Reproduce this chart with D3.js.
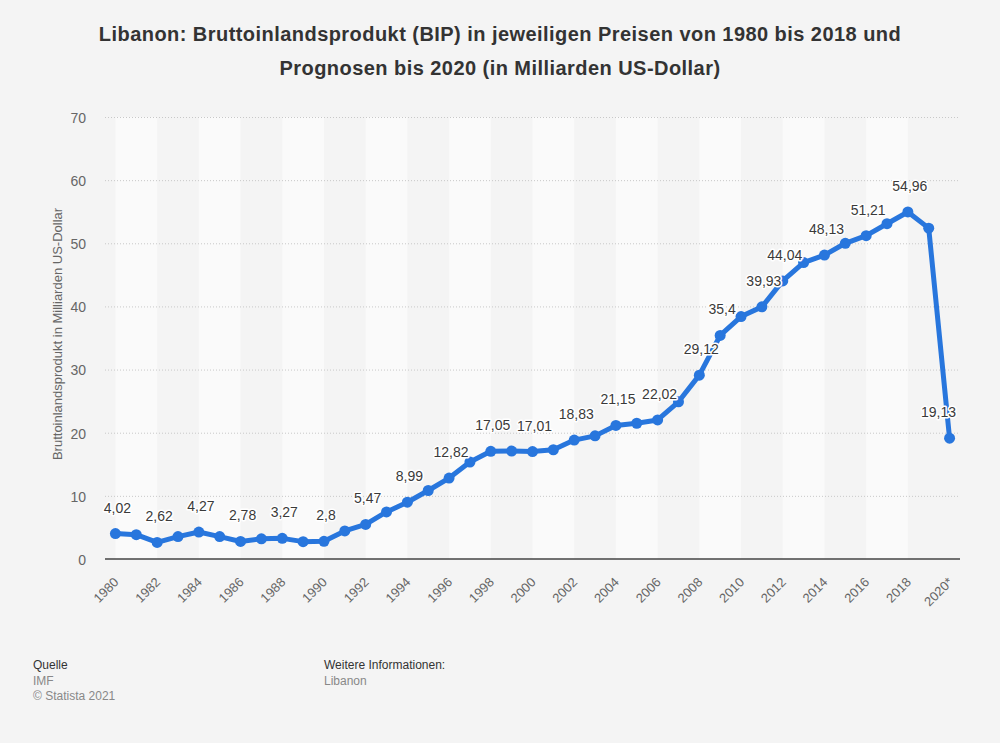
<!DOCTYPE html>
<html>
<head>
<meta charset="utf-8">
<script src="https://cdn.jsdelivr.net/npm/d3@7"></script>
<style>
  html, body { margin: 0; padding: 0; background: #f4f4f4; }
  svg { display: block; font-family: "Liberation Sans", Arial, Helvetica, sans-serif; }
</style>
</head>
<body>
<svg id="chart" width="1000" height="743"></svg>
<script>
const categories = ["1980","1981","1982","1983","1984","1985","1986","1987","1988","1989",
  "1990","1991","1992","1993","1994","1995","1996","1997","1998","1999",
  "2000","2001","2002","2003","2004","2005","2006","2007","2008","2009",
  "2010","2011","2012","2013","2014","2015","2016","2017","2018","2019","2020*"];
const gdpValues = [4.02, 3.85, 2.62, 3.55, 4.27, 3.55, 2.78, 3.2, 3.27, 2.75,
  2.8, 4.45, 5.47, 7.45, 8.99, 10.85, 12.82, 15.35, 17.05, 17.1,
  17.01, 17.3, 18.83, 19.5, 21.15, 21.5, 22.02, 24.9, 29.12, 35.4,
  38.4, 39.93, 44.04, 46.95, 48.13, 50.0, 51.21, 53.1, 54.96, 52.4, 19.13];
const labeledCategories = ["1980","1982","1984","1986","1988","1990","1992","1994","1996","1998",
  "2000","2002","2004","2006","2008","2009","2011","2012","2014","2016","2018","2020*"];
const xTickLabels = ["1980","1982","1984","1986","1988","1990","1992","1994","1996","1998",
  "2000","2002","2004","2006","2008","2010","2012","2014","2016","2018","2020*"];
const yTicks = [0, 10, 20, 30, 40, 50, 60, 70];
const titleLines = ["Libanon: Bruttoinlandsprodukt (BIP) in jeweiligen Preisen von 1980 bis 2018 und",
  "Prognosen bis 2020 (in Milliarden US-Dollar)"];
const yAxisTitle = "Bruttoinlandsprodukt in Milliarden US-Dollar";

const svg = d3.select("#chart");
const fmt = v => String(v).replace(".", ",");

const plotLeft = 105, plotRight = 960, plotTop = 117, plotBottom = 559;
const x = d3.scalePoint().domain(categories).range([plotLeft, plotRight]).padding(0.5);
const y = d3.scaleLinear().domain([0, 70]).range([plotBottom, plotTop]);

svg.append("rect").attr("width", 1000).attr("height", 743).attr("fill", "#f4f4f4");

// alternating bands
const bandStarts = categories.filter((c, i) => i % 4 === 0 && i + 2 < categories.length);
svg.append("g").selectAll("rect").data(bandStarts).join("rect")
  .attr("x", d => x(d))
  .attr("width", d => x(categories[categories.indexOf(d) + 2]) - x(d))
  .attr("y", plotTop)
  .attr("height", plotBottom - plotTop)
  .attr("fill", "#fafafa");

// gridlines
svg.append("g").selectAll("line").data(yTicks.filter(t => t > 0)).join("line")
  .attr("x1", plotLeft).attr("x2", plotRight)
  .attr("y1", d => y(d) + 0.5).attr("y2", d => y(d) + 0.5)
  .attr("stroke", "#c8c8c8").attr("stroke-width", 1).attr("stroke-dasharray", "1,2");

// y axis labels
svg.append("g").selectAll("text").data(yTicks).join("text")
  .attr("x", 86).attr("y", d => y(d) + 1).attr("dy", "0.35em")
  .attr("text-anchor", "end").attr("font-size", 14).attr("fill", "#666")
  .text(d => d);

// x axis line
svg.append("line").attr("x1", plotLeft).attr("x2", plotRight)
  .attr("y1", plotBottom).attr("y2", plotBottom)
  .attr("stroke", "#444").attr("stroke-width", 1.5);

// x tick labels
svg.append("g").selectAll("text").data(xTickLabels).join("text")
  .attr("transform", d => `translate(${x(d) + 4},${plotBottom + 24}) rotate(-45)`)
  .attr("text-anchor", "end").attr("font-size", 13).attr("fill", "#666")
  .text(d => d);

// y axis title
svg.append("text")
  .attr("transform", `translate(62,334) rotate(-90)`)
  .attr("text-anchor", "middle").attr("font-size", 13).attr("fill", "#666")
  .text(yAxisTitle);

// line
const pts = categories.map((c, i) => ({c, v: gdpValues[i]}));
svg.append("path").datum(pts)
  .attr("d", d3.line().x(d => x(d.c)).y(d => y(d.v)))
  .attr("fill", "none").attr("stroke", "#2876dd").attr("stroke-width", 5)
  .attr("stroke-linejoin", "round").attr("stroke-linecap", "round");

svg.append("g").selectAll("circle").data(pts).join("circle")
  .attr("cx", d => x(d.c)).attr("cy", d => y(d.v)).attr("r", 5.5)
  .attr("fill", "#2876dd");

// data labels
const labels = svg.append("g").selectAll("text").data(pts.filter(p => labeledCategories.includes(p.c))).join("text")
  .attr("x", d => x(d.c) + 2).attr("y", d => y(d.v) - 21)
  .attr("text-anchor", "middle").attr("font-size", 14).attr("fill", "#3a3a3a")
  .attr("stroke", "#ffffff").attr("stroke-width", 3).attr("stroke-linejoin", "round")
  .attr("paint-order", "stroke")
  .text(d => fmt(d.v));
labels.each(function(d) {
  const w = this.getComputedTextLength();
  const cx = x(d.c) + 2;
  const maxRight = plotRight - 4;
  if (cx + w / 2 > maxRight) d3.select(this).attr("x", maxRight - w / 2);
});

// title
svg.append("g").selectAll("text").data(titleLines).join("text")
  .attr("x", 500).attr("y", (d, i) => 41 + i * 33.5)
  .attr("text-anchor", "middle").attr("font-size", 20).attr("font-weight", "bold")
  .attr("letter-spacing", 0.45).attr("fill", "#333")
  .text(d => d);

// footer
const footer = svg.append("g").attr("font-size", 12);
footer.append("text").attr("x", 33).attr("y", 669).attr("fill", "#333").text("Quelle");
footer.append("text").attr("x", 33).attr("y", 685).attr("fill", "#888").text("IMF");
footer.append("text").attr("x", 33).attr("y", 700).attr("fill", "#888").text("© Statista 2021");
footer.append("text").attr("x", 324).attr("y", 669).attr("fill", "#333").text("Weitere Informationen:");
footer.append("text").attr("x", 324).attr("y", 685).attr("fill", "#888").text("Libanon");
</script>
</body>
</html>
